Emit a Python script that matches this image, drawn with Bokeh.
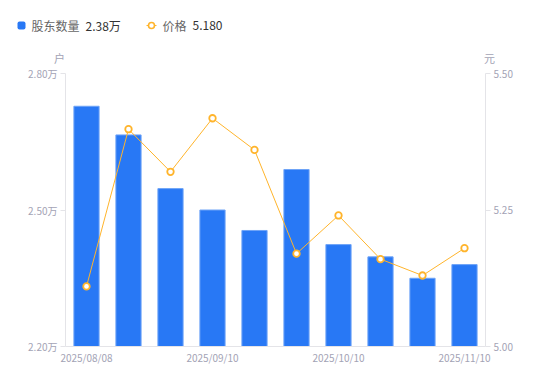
from bokeh.plotting import figure
from bokeh.layouts import column, row
from bokeh.models import Range1d, LinearAxis, FixedTicker
from bokeh.core.properties import value
from bokeh.embed import file_html
from bokeh.resources import INLINE

dates = ["2025/08/08", "2025/08/20", "2025/08/29", "2025/09/10", "2025/09/19",
         "2025/09/30", "2025/10/10", "2025/10/20", "2025/10/31", "2025/11/10"]
holders = [2.728, 2.665, 2.547, 2.500, 2.455, 2.589, 2.424, 2.397, 2.350, 2.380]
prices = [5.110, 5.398, 5.320, 5.418, 5.360, 5.170, 5.240, 5.160, 5.130, 5.180]
shown_dates = ["2025/08/08", "2025/09/10", "2025/10/10", "2025/11/10"]
left_ticks = [2.20, 2.50, 2.80]
right_ticks = [5.00, 5.25, 5.50]
legend_names = ["股东数量", "价格"]
legend_values = ["2.38万", "5.180"]
units = ["户", "元"]

FONT = "Noto Sans CJK SC"
BLUE = "#2878F5"
ORANGE = "#FFB42B"
AXIS_TXT = "#A3A3B5"
AXIS_LINE = "#E4E4E8"
W, H = 550, 381
TOP = 64

# ---- header (legend + unit titles) in page pixel coordinates ----
h = figure(x_range=Range1d(0, W), y_range=Range1d(TOP, 0), width=W, height=TOP,
           output_backend="svg", toolbar_location=None,
           min_border=0, min_border_left=0, min_border_right=0,
           min_border_top=0, min_border_bottom=0)
h.axis.visible = False
h.grid.visible = False
h.outline_line_color = None

h.rect(x=21, y=25, width=8, height=8, fill_color=BLUE, line_color=None,
       border_radius=2)
h.line(x=[146, 156], y=[25, 25], line_color=ORANGE, line_width=1.2)
h.scatter(x=[151], y=[25], size=6, fill_color="white", line_color=ORANGE, line_width=1.6)
h.text(x=[31, 162], y=[25, 25], text=legend_names, text_font=value(FONT),
       text_font_size="12px", text_color="#666666", text_baseline="middle")
h.text(x=[85, 192], y=[25, 25], text=legend_values, text_font=value(FONT),
       text_font_size="12px", text_color="#333333", text_baseline="middle")
h.text(x=[59, 489], y=[57, 57], text=units, text_font=value(FONT),
       text_font_size="11px", text_color=AXIS_TXT, text_baseline="middle",
       text_align="center")

# ---- main chart ----
idx = list(range(len(dates)))
p = figure(x_range=Range1d(-0.5, len(dates) - 0.5), y_range=Range1d(2.2, 2.8),
           width=W, height=H - TOP, output_backend="svg", toolbar_location=None,
           min_border_left=65, min_border_right=65, min_border_top=9, min_border_bottom=35)
p.extra_y_ranges = {"price": Range1d(5.0, 5.5)}
p.xgrid.visible = False
p.ygrid.visible = False
p.outline_line_color = None

p.vbar(x=idx, top=holders, bottom=2.2, width=0.6, fill_color=BLUE,
       line_color="#6FA4F7", line_width=1)
p.line(x=idx, y=prices, y_range_name="price", line_color=ORANGE, line_width=1)
p.scatter(x=idx, y=prices, y_range_name="price", size=6.5, fill_color="white",
          line_color=ORANGE, line_width=1.8)

xa = p.xaxis[0]
xa.ticker = FixedTicker(ticks=[dates.index(d) for d in shown_dates])
xa.major_label_overrides = {dates.index(d): d for d in shown_dates}
xa.major_tick_line_color = None
xa.minor_tick_line_color = None
xa.axis_line_color = AXIS_LINE
xa.major_label_text_color = AXIS_TXT
xa.major_label_text_font = FONT
xa.major_label_text_font_size = "10px"
xa.major_label_standoff = -3

ya = p.yaxis[0]
ya.ticker = FixedTicker(ticks=left_ticks)
ya.major_label_overrides = {t: f"{t:.2f}万" for t in left_ticks}
ya.minor_tick_line_color = None
ya.major_tick_in = 0
ya.major_tick_out = 5
ya.major_tick_line_color = AXIS_LINE
ya.axis_line_color = AXIS_LINE
ya.major_label_text_color = AXIS_TXT
ya.major_label_text_font = FONT
ya.major_label_text_font_size = "10px"
ya.major_label_standoff = 3

ra = LinearAxis(y_range_name="price", ticker=FixedTicker(ticks=right_ticks))
ra.major_label_overrides = {t: f"{t:.2f}" for t in right_ticks}
ra.minor_tick_line_color = None
ra.major_tick_in = 0
ra.major_tick_out = 5
ra.major_tick_line_color = AXIS_LINE
ra.axis_line_color = AXIS_LINE
ra.major_label_text_color = AXIS_TXT
ra.major_label_text_font = FONT
ra.major_label_text_font_size = "10px"
ra.major_label_standoff = 3
p.add_layout(ra, "right")

layout = column(row(h, spacing=0), p, spacing=0)
open("out.html", "w").write(file_html(layout, INLINE))
